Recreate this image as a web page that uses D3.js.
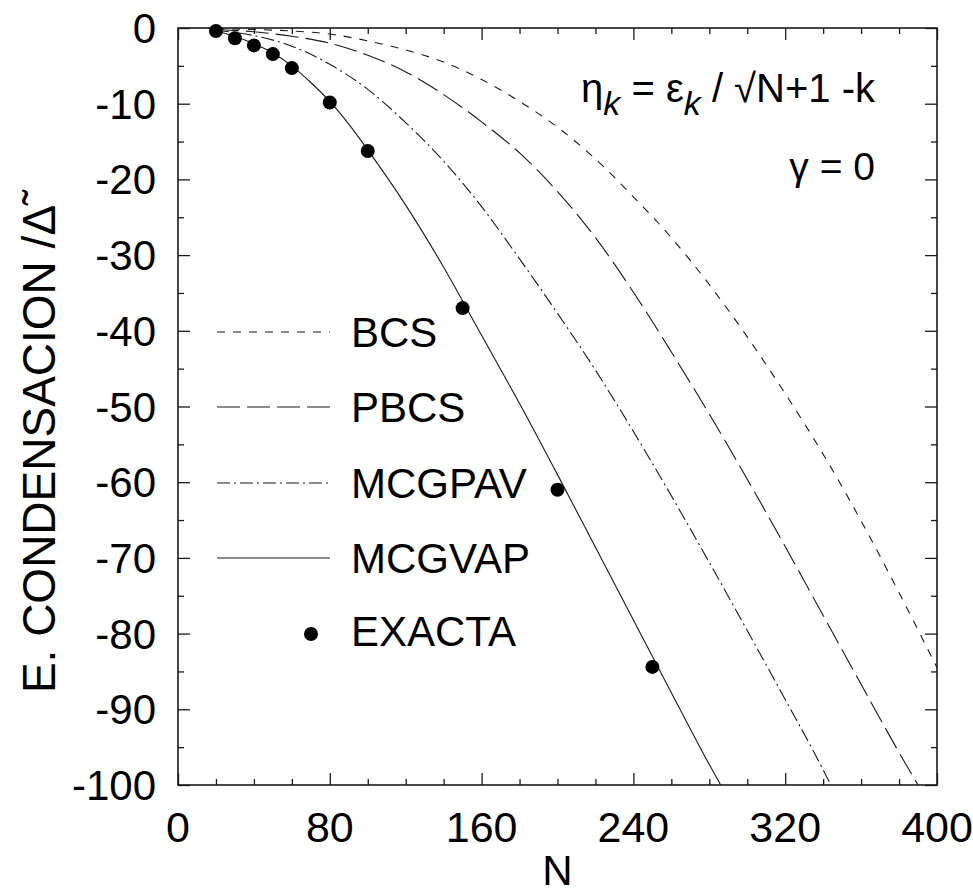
<!DOCTYPE html>
<html>
<head>
<meta charset="utf-8">
<script src="https://cdn.jsdelivr.net/npm/d3@7"></script>
<style>
  html, body { margin: 0; padding: 0; background: #fff; }
  svg { display: block; font-family: "Liberation Sans", Arial, Helvetica, sans-serif; }
</style>
</head>
<body>
<svg id="chart" width="973" height="895"></svg>
<script>
// Condensation energy vs. particle number N for several approximations.
const bcsN    = [20, 40, 60, 80, 100, 120, 140, 160, 180, 200, 220, 240, 260, 280, 300, 320, 340, 360, 380, 400];
const bcsE    = [-0.1, -0.2, -0.4, -0.8, -1.7, -2.9, -4.5, -6.8, -9.7, -13.1, -17.3, -22.3, -27.7, -33.9, -40.8, -48.3, -56.3, -65.1, -74.6, -84.5];

const pbcsN   = [20, 40, 60, 80, 100, 120, 140, 160, 180, 200, 220, 240, 260, 280, 300, 320, 340, 360, 380, 390];
const pbcsE   = [-0.2, -0.5, -1.1, -2.0, -3.6, -5.8, -8.8, -12.4, -16.5, -21.6, -27.7, -34.9, -42.8, -51.0, -59.6, -68.5, -77.6, -86.7, -95.7, -100];

const mcgpavN = [20, 40, 60, 80, 100, 120, 140, 160, 180, 200, 220, 240, 260, 280, 300, 320, 340, 344];
const mcgpavE = [-0.3, -1.0, -2.4, -4.8, -8.1, -12.5, -17.6, -23.6, -30.5, -37.7, -45.2, -53.3, -61.8, -70.6, -79.6, -88.7, -98.0, -100];

const mcgvapN = [20, 30, 40, 50, 60, 70, 80, 90, 100, 120, 140, 160, 180, 200, 220, 240, 260, 280, 286];
const mcgvapE = [-0.4, -1.1, -2.1, -3.3, -5.0, -7.2, -9.7, -12.7, -16.1, -23.4, -31.6, -40.6, -49.6, -59.0, -68.6, -78.2, -87.8, -97.3, -100];

const exactN  = [20, 30, 40, 50, 60, 80, 100, 150, 200, 250];
const exactE  = [-0.4, -1.35, -2.3, -3.45, -5.3, -9.85, -16.25, -37.0, -61.0, -84.4];

const xTicks = [0, 80, 160, 240, 320, 400];
const yTicks = [0, -10, -20, -30, -40, -50, -60, -70, -80, -90, -100];

const legendNames = ["BCS", "PBCS", "MCGPAV", "MCGVAP", "EXACTA"];

const svg = d3.select("#chart");
const plotL = 178, plotR = 937, plotT = 28, plotB = 785;
const ink = "#1a1a1a";

const x = d3.scaleLinear().domain([0, 400]).range([plotL, plotR]);
const y = d3.scaleLinear().domain([-100, 0]).range([plotB, plotT]);

svg.append("rect").attr("width", 973).attr("height", 895).attr("fill", "#fff");

svg.append("clipPath").attr("id", "plot-clip")
  .append("rect").attr("x", plotL).attr("y", plotT).attr("width", plotR - plotL).attr("height", plotB - plotT);

// Axes with inward ticks on all four sides
const minorX = d3.range(0, 401, 20).filter(v => v % 80 !== 0);
const minorY = d3.range(-95, 0, 10);

function tickLayer(axis, tx, ty) {
  const g = svg.append("g").attr("transform", `translate(${tx},${ty})`).call(axis);
  g.select(".domain").remove();
  g.selectAll("line").attr("stroke", ink).attr("stroke-width", 1.3);
  g.selectAll("text").remove();
  return g;
}
tickLayer(d3.axisBottom(x).tickValues(xTicks).tickSizeInner(-12).tickSizeOuter(0), 0, plotB);
tickLayer(d3.axisBottom(x).tickValues(minorX).tickSizeInner(-6).tickSizeOuter(0), 0, plotB);
tickLayer(d3.axisTop(x).tickValues(xTicks).tickSizeInner(-12).tickSizeOuter(0), 0, plotT);
tickLayer(d3.axisTop(x).tickValues(minorX).tickSizeInner(-6).tickSizeOuter(0), 0, plotT);
tickLayer(d3.axisLeft(y).tickValues(yTicks).tickSizeInner(-12).tickSizeOuter(0), plotL, 0);
tickLayer(d3.axisLeft(y).tickValues(minorY).tickSizeInner(-6).tickSizeOuter(0), plotL, 0);
tickLayer(d3.axisRight(y).tickValues(yTicks).tickSizeInner(-12).tickSizeOuter(0), plotR, 0);
tickLayer(d3.axisRight(y).tickValues(minorY).tickSizeInner(-6).tickSizeOuter(0), plotR, 0);

svg.append("rect")
  .attr("x", plotL).attr("y", plotT).attr("width", plotR - plotL).attr("height", plotB - plotT)
  .attr("fill", "none").attr("stroke", ink).attr("stroke-width", 1.6);

// Tick labels
svg.append("g").selectAll("text").data(xTicks).join("text")
  .attr("x", d => x(d)).attr("y", 842)
  .attr("text-anchor", "middle").attr("font-size", 43).attr("fill", "#000")
  .text(d => d);

svg.append("g").selectAll("text").data(yTicks).join("text")
  .attr("x", 156).attr("y", d => y(d) + 15)
  .attr("text-anchor", "end").attr("font-size", 42).attr("fill", "#000")
  .text(d => d);

// Axis titles
svg.append("text").attr("x", (plotL + plotR) / 2).attr("y", 885)
  .attr("text-anchor", "middle").attr("font-size", 42).attr("fill", "#000").text("N");

svg.append("text")
  .attr("transform", "translate(55,449) rotate(-90)")
  .attr("text-anchor", "middle").attr("font-size", 46).attr("fill", "#000")
  .text("E. CONDENSACION /\u0394\u0303");

// Curves
const line = d3.line().x(d => x(d[0])).y(d => y(d[1])).curve(d3.curveMonotoneX);
const series = [
  { name: "BCS",    n: bcsN,    e: bcsE,    dash: "8,8" },
  { name: "PBCS",   n: pbcsN,   e: pbcsE,   dash: "23,7" },
  { name: "MCGPAV", n: mcgpavN, e: mcgpavE, dash: "13,4,2,4" },
  { name: "MCGVAP", n: mcgvapN, e: mcgvapE, dash: null }
];

const curves = svg.append("g").attr("clip-path", "url(#plot-clip)");
series.forEach(s => {
  curves.append("path")
    .datum(s.n.map((v, i) => [v, s.e[i]]))
    .attr("d", line)
    .attr("fill", "none").attr("stroke", ink).attr("stroke-width", 1.1)
    .attr("stroke-dasharray", s.dash);
});

svg.append("g").selectAll("circle").data(exactN.map((v, i) => [v, exactE[i]])).join("circle")
  .attr("cx", d => x(d[0])).attr("cy", d => y(d[1])).attr("r", 7).attr("fill", "#000");

// Legend
const legRowY = [332, 407, 483, 558, 634];
const leg = svg.append("g");
series.forEach((s, i) => {
  leg.append("line").attr("x1", 217).attr("x2", 330).attr("y1", legRowY[i]).attr("y2", legRowY[i])
    .attr("stroke", ink).attr("stroke-width", 1.1).attr("stroke-dasharray", s.dash);
});
leg.append("circle").attr("cx", 311).attr("cy", legRowY[4]).attr("r", 7).attr("fill", "#000");
leg.selectAll("text").data(legendNames).join("text")
  .attr("x", 351).attr("y", (d, i) => legRowY[i] + 15 + (i === 4 ? -3 : 0))
  .attr("font-size", 42).attr("fill", "#000").text(d => d);

// Annotation
const note = svg.append("text").attr("x", 875).attr("y", 102)
  .attr("text-anchor", "end").attr("font-size", 40).attr("fill", "#000");
note.append("tspan").text("\u03B7");
note.append("tspan").attr("font-style", "italic").attr("font-size", 34).attr("dy", 13).text("k");
note.append("tspan").attr("dy", -13).text(" = \u03B5");
note.append("tspan").attr("font-style", "italic").attr("font-size", 34).attr("dy", 13).text("k");
note.append("tspan").attr("dy", -13).text(" / \u221AN+1 -k");

svg.append("text").attr("x", 875).attr("y", 180)
  .attr("text-anchor", "end").attr("font-size", 39).attr("fill", "#000")
  .text("\u03B3 = 0");
</script>
</body>
</html>
